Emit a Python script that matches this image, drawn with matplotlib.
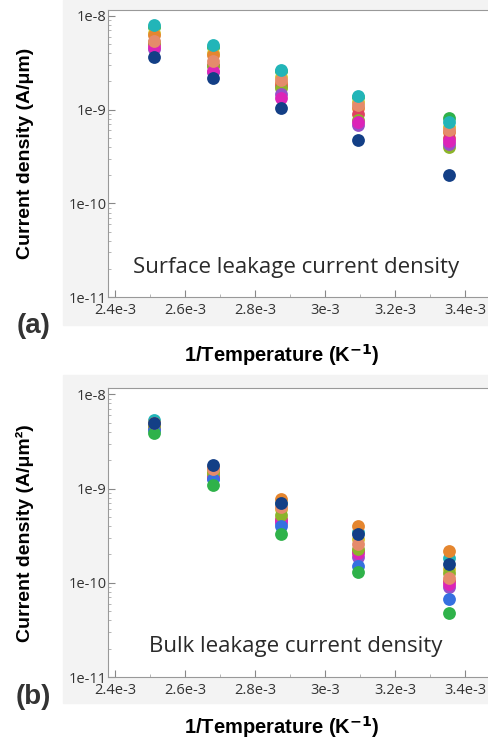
import matplotlib.pyplot as plt
from matplotlib.patches import Rectangle
from matplotlib.ticker import LogLocator, MultipleLocator

# 1/T for 125, 100, 75, 50, 25 C
inv_temp = [2.513e-3, 2.681e-3, 2.874e-3, 3.096e-3, 3.356e-3]

colors = {
    "teal": "#22b5b8", "green": "#2fb24a", "yellow": "#d6c12c",
    "orange": "#e5862f", "salmon": "#e58b6b", "red": "#e04060",
    "olive": "#8cb42a", "magenta": "#dc24b8", "purple": "#9650c8",
    "blue": "#3570e0", "navy": "#133f86",
}

# surface leakage current density (A/um)
surface = {
    "green": [7.6e-9, 4.7e-9, 2.55e-9, 1.35e-9, 8.2e-10],
    "yellow": [6.6e-9, 4.0e-9, 2.2e-9, 1.2e-9, 6.6e-10],
    "orange": [6.3e-9, 3.8e-9, 1.94e-9, 1.05e-9, 5.8e-10],
    "red": [5.0e-9, 3.0e-9, 1.8e-9, 8.9e-10, 5.0e-10],
    "olive": [5.2e-9, 2.9e-9, 1.71e-9, 7.8e-10, 4.0e-10],
    "purple": [4.4e-9, 2.5e-9, 1.45e-9, 6.9e-10, 4.3e-10],
    "magenta": [4.6e-9, 2.6e-9, 1.34e-9, 7.3e-10, 4.6e-10],
    "salmon": [5.4e-9, 3.3e-9, 2.08e-9, 1.13e-9, 6.1e-10],
    "navy": [3.66e-9, 2.15e-9, 1.03e-9, 4.7e-10, 2.0e-10],
    "teal": [8.0e-9, 4.9e-9, 2.67e-9, 1.41e-9, 7.4e-10],
}

# bulk leakage current density (A/um^2)
bulk = {
    "teal": [5.3e-9, 1.6e-9, 6.8e-10, 3.5e-10, 1.85e-10],
    "yellow": [4.8e-9, 1.5e-9, 6.0e-10, 2.94e-10, 1.4e-10],
    "orange": [5.0e-9, 1.7e-9, 7.8e-10, 4.0e-10, 2.19e-10],
    "red": [4.5e-9, 1.35e-9, 4.8e-10, 2.2e-10, 1.05e-10],
    "purple": [4.35e-9, 1.3e-9, 4.3e-10, 1.9e-10, 9.0e-11],
    "magenta": [4.4e-9, 1.3e-9, 4.57e-10, 2.08e-10, 9.7e-11],
    "olive": [4.6e-9, 1.45e-9, 5.3e-10, 2.3e-10, 1.28e-10],
    "blue": [4.2e-9, 1.25e-9, 4.0e-10, 1.52e-10, 6.8e-11],
    "green": [3.85e-9, 1.08e-9, 3.3e-10, 1.31e-10, 4.8e-11],
    "salmon": [4.9e-9, 1.63e-9, 6.3e-10, 2.6e-10, 1.13e-10],
    "navy": [5.0e-9, 1.76e-9, 7.1e-10, 3.3e-10, 1.59e-10],
}

x_ticks = [2.4e-3, 2.6e-3, 2.8e-3, 3.0e-3, 3.2e-3, 3.4e-3]
x_labels = ["2.4e-3", "2.6e-3", "2.8e-3", "3e-3", "3.2e-3", "3.4e-3"]
y_ticks = [1e-11, 1e-10, 1e-9, 1e-8]
y_labels = ["1e-11", "1e-10", "1e-9", "1e-8"]

tick_font = "Open Sans"
text_col = "#333333"


def draw_panel(fig, rect, grey, series, ylabel, note, tag, xlab_y, tag_y):
    left, bottom, width, height = rect
    # light grey plot-panel background
    fig.patches.append(Rectangle((0.129, grey[0]), 0.871, grey[1] - grey[0],
                                 transform=fig.transFigure, color="#f3f3f3",
                                 zorder=-5))
    ax = fig.add_axes(rect)
    ax.set_facecolor("white")
    for name, vals in series.items():
        ax.scatter(inv_temp, vals, s=85, color=colors[name], linewidths=0,
                   zorder=3)
    ax.set_yscale("log")
    ax.set_xlim(2.38e-3, 3.466e-3)
    ax.set_ylim(1e-11, 1.16e-8)
    ax.set_xticks(x_ticks)
    ax.set_xticklabels(x_labels, fontsize=10.5, family=tick_font, color=text_col)
    ax.xaxis.set_minor_locator(MultipleLocator(1e-4))
    ax.set_yticks(y_ticks)
    ax.set_yticklabels(y_labels, fontsize=10.5, family=tick_font, color=text_col)
    ax.yaxis.set_minor_locator(LogLocator(base=10, subs=range(2, 10)))
    ax.tick_params(axis="both", which="major", direction="in", length=5,
                   color="#888888")
    ax.tick_params(axis="both", which="minor", direction="in", length=2.5,
                   color="#aaaaaa")
    ax.tick_params(axis="y", which="minor", labelleft=False)
    ax.tick_params(axis="y", which="major", pad=1)
    ax.tick_params(axis="x", which="major", pad=4)
    for side in ["left", "bottom", "top"]:
        ax.spines[side].set_color("#999999")
    ax.spines["right"].set_visible(False)

    ax.text(0.495, 0.105, note, transform=ax.transAxes, ha="center",
            va="center", fontsize=16, family=tick_font, color="#2a2a2a")
    fig.text(0.052, bottom + height / 2, ylabel, rotation=90, ha="center",
             va="center", fontsize=14, fontweight="bold",
             family="Liberation Sans")
    fig.text(0.577, xlab_y, "1/Temperature (K$^{\\mathbf{-1}}$)",
             ha="center", va="center", fontsize=14.5, fontweight="bold",
             family="Liberation Sans")
    fig.text(0.068, tag_y, tag, ha="center", va="center", fontsize=20,
             fontweight="bold", family="Liberation Sans", color="#333333")
    return ax


def main():
    fig = plt.figure(figsize=(4.88, 7.45), dpi=100)
    draw_panel(fig, [0.221, 0.601, 0.779, 0.386], (0.564, 1.0), surface,
               "Current density (A/\u03bcm)", "Surface leakage current density",
               "(a)", 0.523, 0.562)
    draw_panel(fig, [0.221, 0.091, 0.779, 0.388], (0.056, 0.497), bulk,
               "Current density (A/\u03bcm\u00b2)", "Bulk leakage current density",
               "(b)", 0.024, 0.064)
    fig.savefig("out.png", dpi=100)


if __name__ == "__main__":
    main()
